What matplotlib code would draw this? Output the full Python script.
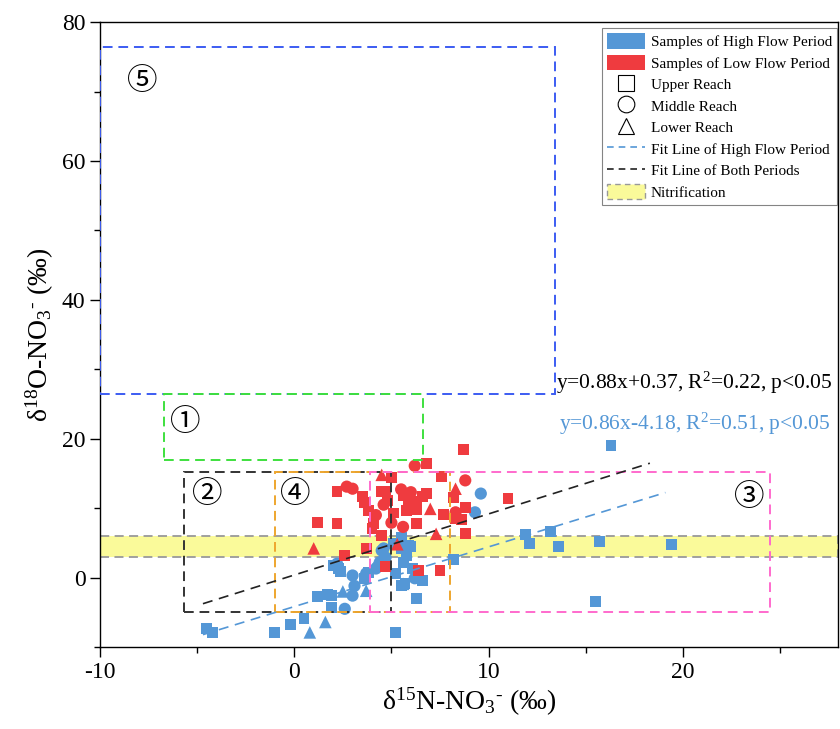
import numpy as np
import matplotlib
matplotlib.use("Agg")
import matplotlib.pyplot as plt
from matplotlib.patches import Rectangle, Patch
from matplotlib.lines import Line2D

plt.rcParams['font.family'] = ['Liberation Serif', 'DejaVu Serif']
plt.rcParams['mathtext.fontset'] = 'custom'
plt.rcParams['mathtext.rm'] = 'Liberation Serif'
plt.rcParams['mathtext.it'] = 'Liberation Serif:italic'
plt.rcParams['axes.unicode_minus'] = False

BLUE = '#5497D6'
RED = '#EF3B3F'

# high flow period samples (d15N, d18O)
hf_upper_x = [16.3, 11.9, 12.1, 13.2, 13.6, 15.7, 19.4, 15.5, 8.2, 5.5, 5.1, 5.5, 5.9, 5.8, 5.6,
              3.8, 3.6, 1.9, 1.9, 2.3, 2.0, 5.2, 5.5, 5.7, 6.1, 6.4, 6.6, 6.3, 5.2,
              -4.5, -4.2, -1.0, -0.2, 0.5, 1.2, 1.7, 2.4, 6.0]
hf_upper_y = [19.0, 6.2, 4.9, 6.6, 4.5, 5.2, 4.8, -3.5, 2.6, 5.8, 4.9, 4.2, 4.6, 3.2, 2.2,
              0.7, -0.1, -2.6, -4.3, 1.3, 1.7, 0.6, -1.2, -0.8, 1.3, -0.1, -0.4, -3.0, -7.9,
              -7.3, -7.9, -7.9, -6.8, -5.9, -2.7, -2.5, 0.9, 4.5]
hf_middle_x = [9.6, 9.3, 4.5, 4.7, 4.4, 4.3, 4.2, 3.0, 3.1, 2.6, 2.2, 6.2, 4.6, 3.0, 3.7]
hf_middle_y = [12.1, 9.4, 3.9, 2.9, 2.2, 1.6, 1.3, 0.3, -1.2, -4.5, 2.0, -0.1, 4.2, -2.6, 0.6]
hf_lower_x = [3.7, 2.5, 0.8, 1.6, 5.6]
hf_lower_y = [-1.9, -2.0, -7.9, -6.4, -0.9]

# low flow period samples
lf_upper_x = [8.7, 6.8, 7.6, 2.2, 3.5, 3.6, 3.8, 4.5, 4.7, 4.8, 5.6, 5.9, 5.8, 6.3, 6.6, 6.8,
              8.2, 8.8, 8.3, 8.6, 7.7, 8.8, 6.3, 4.1, 4.0, 4.5, 2.2, 1.2, 3.7, 2.6, 4.7, 6.4,
              7.5, 11.0, 5.0, 6.3, 5.1]
lf_upper_y = [18.4, 16.4, 14.6, 12.4, 11.7, 10.8, 9.7, 12.4, 12.4, 11.1, 11.8, 11.1, 9.7, 9.8, 11.7, 12.1,
              11.5, 10.1, 8.5, 8.4, 9.1, 6.3, 7.8, 7.8, 7.1, 6.0, 7.8, 7.9, 4.2, 3.2, 1.6, 1.0,
              1.0, 11.4, 14.4, 11.0, 9.3]
lf_middle_x = [6.2, 2.7, 3.0, 8.8, 5.5, 8.3, 5.6, 5.0, 4.6, 4.2, 6.0]
lf_middle_y = [16.1, 13.1, 12.8, 14.0, 12.7, 9.4, 7.3, 7.9, 10.5, 9.0, 12.3]
lf_lower_x = [4.5, 8.3, 7.0, 7.3, 1.0, 5.3]
lf_lower_y = [14.8, 12.8, 9.9, 6.3, 4.2, 4.8]

# source boxes: x0, x1, y0, y1, colour, circled label and its position
box_x0 = [-10.0, -6.7, -5.7, -1.0, 3.9]
box_x1 = [13.4, 6.6, 5.0, 8.0, 24.5]
box_y0 = [26.4, 17.0, -5.0, -5.0, -5.0]
box_y1 = [76.5, 26.4, 15.2, 15.2, 15.2]
box_colors = ['#3C5CF2', '#3EE03E', '#333333', '#EEA62E', '#FF6ACD']
box_marks = ['⑤', '①', '②', '④', '③']
mark_x = [-7.8, -5.6, -4.5, 0.05, 23.4]
mark_y = [71.5, 22.3, 12.0, 12.0, 11.5]

# fit lines: slope, intercept, x start, x end
fit_all = (0.88, 0.37, -4.7, 18.3)
fit_high = (0.86, -4.18, -4.7, 19.1)

fig = plt.figure(figsize=(8.4, 7.29), dpi=100)
ax = fig.add_axes([0.119, 0.1125, 0.879, 0.857])

# nitrification band
ax.axhspan(3.0, 6.0, facecolor='#FAFA9A', edgecolor='#999999', ls=(0, (5, 3)), lw=1.3, zorder=1)

ms = 62
ax.scatter(hf_upper_x, hf_upper_y, marker='s', s=ms, c=BLUE, edgecolors='none', zorder=2)
ax.scatter(hf_middle_x, hf_middle_y, marker='o', s=ms + 15, c=BLUE, edgecolors='none', zorder=2)
ax.scatter(hf_lower_x, hf_lower_y, marker='^', s=ms + 20, c=BLUE, edgecolors='none', zorder=2)
ax.scatter(lf_upper_x, lf_upper_y, marker='s', s=ms, c=RED, edgecolors='none', zorder=2)
ax.scatter(lf_middle_x, lf_middle_y, marker='o', s=ms + 15, c=RED, edgecolors='none', zorder=2)
ax.scatter(lf_lower_x, lf_lower_y, marker='^', s=ms + 20, c=RED, edgecolors='none', zorder=2)

for x0, x1, y0, y1, col, m, mx, my in zip(box_x0, box_x1, box_y0, box_y1, box_colors,
                                          box_marks, mark_x, mark_y):
    ax.add_patch(Rectangle((x0, y0), x1 - x0, y1 - y0, fill=False, edgecolor=col,
                           ls=(0, (5, 3)), lw=1.4, zorder=3))
    ax.text(mx, my, m, fontsize=22, ha='center', va='center',
            family=['Noto Sans CJK JP', 'DejaVu Sans'], zorder=4)

for (k, b, xa, xb), col in [(fit_all, '#222222'), (fit_high, BLUE)]:
    xs = np.array([xa, xb])
    ax.plot(xs, k * xs + b, color=col, ls=(0, (6, 4)), lw=1.2, zorder=3)

ax.text(13.45, 28.0, 'y=0.88x+0.37, R$^2$=0.22, p<0.05', fontsize=15.5, color='black',
        ha='left', va='center')
ax.text(13.6, 22.2, 'y=0.86x-4.18, R$^2$=0.51, p<0.05', fontsize=15.5, color=BLUE,
        ha='left', va='center')

ax.set_xlim(-10, 28)
ax.set_ylim(-10, 80)
ax.set_xticks([-10, 0, 10, 20])
ax.set_xticks([-5, 5, 15, 25], minor=True)
ax.set_yticks([0, 20, 40, 60, 80])
ax.set_yticks([-10, 10, 30, 50, 70], minor=True)
ax.tick_params(which='major', direction='out', length=7, width=1, labelsize=17)
ax.tick_params(which='minor', direction='out', length=4, width=1)
for s in ax.spines.values():
    s.set_linewidth(1.0)

ax.set_xlabel('δ$^{15}$N-NO$_3$$^{\\text{-}}$ (‰)', fontsize=20, labelpad=2)
ax.set_ylabel('δ$^{18}$O-NO$_3$$^{\\text{-}}$ (‰)', fontsize=20, labelpad=4)

handles = [
    Patch(facecolor=BLUE, edgecolor='none'),
    Patch(facecolor=RED, edgecolor='none'),
    Line2D([], [], marker='s', ls='none', mfc='white', mec='black', ms=11, mew=0.8),
    Line2D([], [], marker='o', ls='none', mfc='white', mec='black', ms=12, mew=0.8),
    Line2D([], [], marker='^', ls='none', mfc='white', mec='black', ms=12, mew=0.8),
    Line2D([], [], color=BLUE, ls=(0, (4, 3)), lw=1.2),
    Line2D([], [], color='#222222', ls=(0, (4, 3)), lw=1.2),
    Patch(facecolor='#FAFA9A', edgecolor='#999999', ls=(0, (4, 3)), lw=1.0),
]
labels = ['Samples of High Flow Period', 'Samples of Low Flow Period', 'Upper Reach',
          'Middle Reach', 'Lower Reach', 'Fit Line of High Flow Period',
          'Fit Line of Both Periods', 'Nitrification']
leg = ax.legend(handles, labels, loc='upper right', bbox_to_anchor=(1.0, 0.993), fontsize=11,
                frameon=True, fancybox=False, edgecolor='#666666', handlelength=2.5,
                handleheight=1.2, handletextpad=0.35, labelspacing=0.36,
                borderpad=0.35, borderaxespad=0.08)
leg.get_frame().set_linewidth(0.8)
leg.set_zorder(5)

fig.savefig('out.png', dpi=100)
